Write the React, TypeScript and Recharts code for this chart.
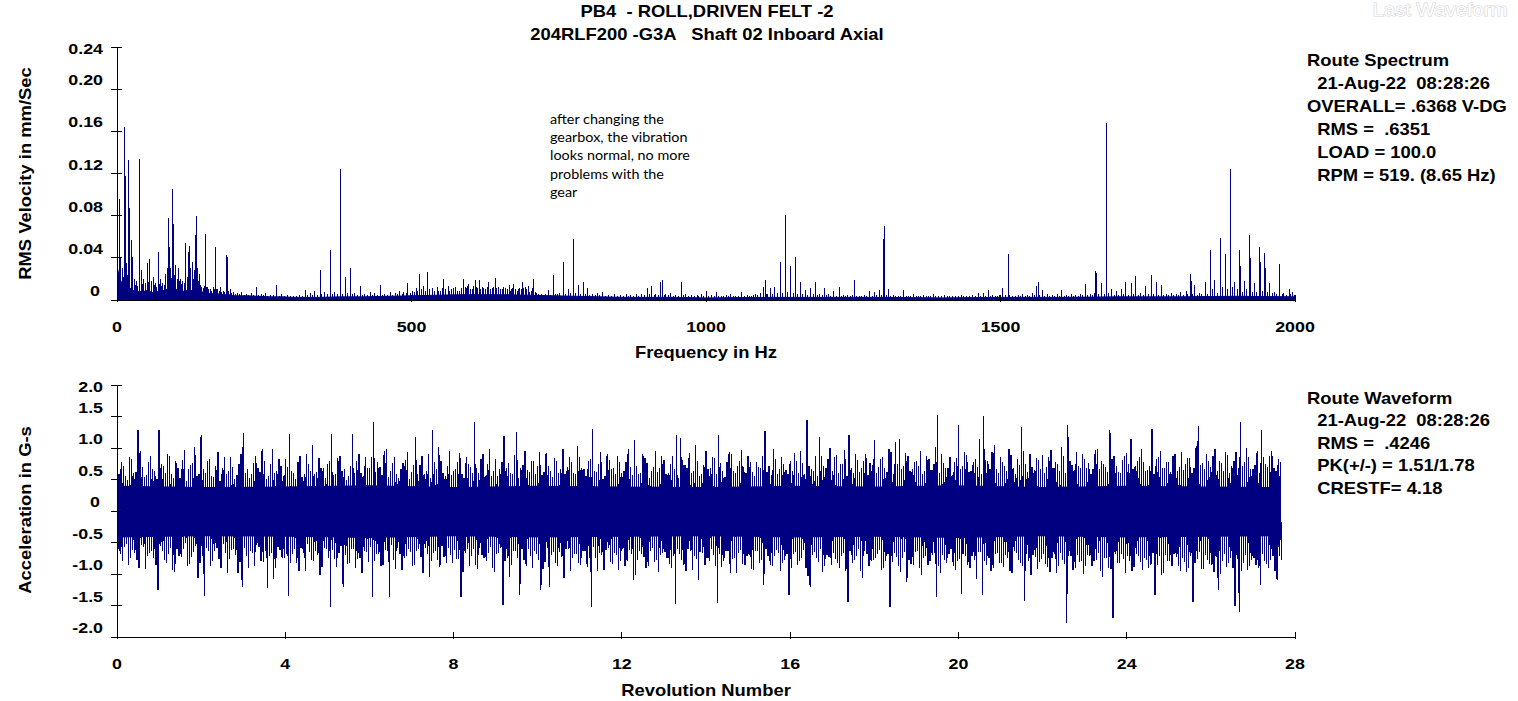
import React from "react";
import { Area, ComposedChart, Line, ReferenceLine, XAxis, YAxis } from "recharts";

const NAVY = "#000080";
const INK = "#000000";
const FONT = "'Liberation Sans', Arial, sans-serif";
const NOTE_FONT = "Lato, 'Noto Sans', sans-serif";
// the source screen is drawn a bit wide, so text gets stretched sideways
const STRETCH = 1.15;

const TITLE_LINES = ["PB4  - ROLL,DRIVEN FELT -2", "204RLF200 -G3A   Shaft 02 Inboard Axial"];
const NOTE_LINES = ["after changing the", "gearbox, the vibration", "looks normal, no more", "problems with the", "gear"];
const SPEC_INFO = ["Route Spectrum", "  21-Aug-22  08:28:26", "OVERALL= .6368 V-DG", "  RMS =  .6351", "  LOAD = 100.0", "  RPM = 519. (8.65 Hz)"];
const WAVE_INFO = ["Route Waveform", "  21-Aug-22  08:28:26", "  RMS =  .4246", "  PK(+/-) = 1.51/1.78", "  CRESTF= 4.18"];

// ---- spectrum ----
const SPEC_X_TICKS = [0, 500, 1000, 1500, 2000];
const SPEC_X_LABELS = ["0", "500", "1000", "1500", "2000"];
const SPEC_TOP_TICKS = [500, 1000, 1500];
const SPEC_Y_TICKS = [0, 0.04, 0.08, 0.12, 0.16, 0.2, 0.24];
const SPEC_Y_LABELS = ["0", "0.04", "0.08", "0.12", "0.16", "0.20", "0.24"];
const SPEC_RIGHT_TICKS = [0.04, 0.08, 0.12, 0.16, 0.2];

const FLOOR_HZ = [0, 4, 8, 14, 20, 28, 36, 44, 52, 60, 70, 80, 90, 100, 110, 120, 130, 140, 150, 160, 170, 180, 190, 200, 220, 240, 260, 280, 300, 340, 380, 420, 460, 500, 540, 580, 620, 660, 700, 740, 780, 820, 860, 900, 950, 1000, 1100, 1200, 1300, 1400, 1500, 1600, 1700, 1800, 1900, 2000];
const FLOOR_AMP = [0.032, 0.022, 0.016, 0.013, 0.012, 0.009, 0.008, 0.008, 0.009, 0.007, 0.008, 0.009, 0.011, 0.01, 0.008, 0.009, 0.009, 0.008, 0.007, 0.006, 0.006, 0.005, 0.005, 0.004, 0.004, 0.0035, 0.003, 0.003, 0.0025, 0.0025, 0.003, 0.003, 0.0035, 0.004, 0.0045, 0.005, 0.005, 0.005, 0.0045, 0.004, 0.0035, 0.003, 0.0025, 0.0025, 0.0025, 0.002, 0.0025, 0.0025, 0.0025, 0.002, 0.0025, 0.0025, 0.003, 0.003, 0.0035, 0.003];

// spectral lines [Hz, mm/s]
const PEAKS = [
  [1, 0.05], [3.4, 0.096], [6, 0.04], [8.5, 0.03], [10.5, 0.022], [12.4, 0.164], [14, 0.118], [16, 0.035], [17.5, 0.024], [19.2, 0.133],
  [20.4, 0.087], [22, 0.03], [24.4, 0.057], [26.6, 0.041], [29, 0.02], [31, 0.014], [33, 0.018], [35.5, 0.013], [38, 0.134], [41.5, 0.028],
  [43.5, 0.015], [45, 0.02], [48, 0.016], [51.6, 0.035], [53.5, 0.017], [55, 0.039], [58, 0.018], [61.8, 0.022], [63.5, 0.014], [65, 0.016],
  [67.5, 0.012], [70.3, 0.046], [72, 0.015], [74, 0.02], [76, 0.013], [78, 0.016], [80, 0.014], [82, 0.025], [85, 0.03], [87.3, 0.0775],
  [89, 0.05], [91, 0.03], [92.5, 0.021], [94, 0.105], [95.8, 0.072], [97.5, 0.024], [99.8, 0.033], [102, 0.02], [104, 0.03], [106, 0.018],
  [108, 0.02], [110, 0.015], [112, 0.018], [114.5, 0.016], [116.8, 0.054], [119, 0.022], [121.9, 0.046], [123, 0.051], [125, 0.03], [127.8, 0.036],
  [129.5, 0.02], [131, 0.028], [133.8, 0.062], [134.9, 0.08], [137, 0.03], [138.5, 0.018], [140, 0.025], [142, 0.014], [144, 0.012], [146.5, 0.011],
  [148, 0.013], [150.2, 0.063], [152, 0.012], [154, 0.012], [156, 0.01], [158, 0.01], [160.5, 0.009], [163, 0.012], [165, 0.01], [167.2, 0.05],
  [169, 0.01], [171, 0.01], [173.5, 0.009], [176, 0.012], [178, 0.008], [180, 0.009], [183, 0.008], [186, 0.043], [187.6, 0.041], [190, 0.009],
  [192, 0.01], [195, 0.007], [198, 0.008], [201, 0.006], [205, 0.007], [208, 0.006], [212, 0.008], [216, 0.005], [220, 0.006], [224, 0.005],
  [228, 0.007], [232, 0.005], [237, 0.0126], [241, 0.005], [245, 0.006], [248, 0.005], [252, 0.007], [256, 0.004], [260, 0.005], [265, 0.005],
  [271.6, 0.014], [276, 0.004], [280, 0.006], [285, 0.004], [290, 0.005], [295, 0.004], [300, 0.004], [305, 0.004], [310, 0.005], [315, 0.004],
  [320, 0.0095], [324, 0.005], [328, 0.007], [332, 0.005], [336, 0.009], [340, 0.005], [345, 0.028], [348, 0.006], [352, 0.008], [357, 0.006],
  [362, 0.047], [366, 0.006], [370, 0.008], [374, 0.006], [379, 0.124], [383, 0.006], [388, 0.022], [392, 0.007], [396, 0.03], [400, 0.006],
  [404, 0.007], [408, 0.005], [413, 0.013], [417, 0.005], [420, 0.006], [425, 0.005], [430, 0.008], [434, 0.005], [438, 0.007], [442, 0.005],
  [447, 0.014], [451, 0.005], [455, 0.006], [459, 0.005], [464, 0.008], [468, 0.005], [472, 0.007], [476, 0.006], [480, 0.009], [484, 0.006],
  [487, 0.008], [491, 0.007], [494, 0.016], [498, 0.007], [502, 0.009], [505, 0.008], [508, 0.011], [511, 0.009], [514, 0.025], [517, 0.01],
  [520, 0.013], [523, 0.009], [527, 0.027], [531, 0.01], [535, 0.011], [539, 0.009], [543.5, 0.0128], [546, 0.009], [549, 0.009], [552, 0.011],
  [555, 0.02], [558, 0.01], [562, 0.0136], [565, 0.009], [568, 0.01], [571, 0.011], [575, 0.012], [578, 0.009], [582, 0.009], [585, 0.011],
  [589, 0.02], [591, 0.012], [593, 0.011], [595, 0.013], [597, 0.015], [600, 0.01], [603, 0.01], [606, 0.013], [608, 0.0185], [610, 0.012],
  [612, 0.011], [615, 0.0185], [617, 0.01], [620, 0.012], [623, 0.011], [626, 0.01], [629, 0.012], [631.5, 0.017], [634, 0.01], [637, 0.011],
  [640, 0.012], [643, 0.021], [645, 0.011], [648, 0.012], [651, 0.01], [654, 0.01], [657, 0.012], [660, 0.011], [663, 0.01], [666, 0.014],
  [668, 0.009], [670, 0.01], [672, 0.011], [674, 0.015], [677, 0.01], [680, 0.009], [682, 0.01], [684, 0.011], [687, 0.01], [689, 0.017],
  [691, 0.011], [694, 0.012], [696, 0.01], [698, 0.013], [701, 0.008], [703, 0.009], [705, 0.011], [707, 0.02], [710, 0.008], [712, 0.007],
  [716, 0.006], [720, 0.006], [724, 0.005], [728, 0.006], [732, 0.0096], [736, 0.005], [741, 0.024], [744, 0.006], [748, 0.006], [752, 0.007],
  [757.3, 0.0363], [761, 0.006], [766, 0.0104], [770, 0.007], [774.4, 0.0582], [778, 0.007], [783, 0.014], [787, 0.006], [791.4, 0.017], [795, 0.006],
  [799, 0.011], [803, 0.005], [808, 0.006], [812, 0.005], [816, 0.0069], [820, 0.005], [825, 0.0074], [830, 0.004], [835, 0.005], [840, 0.004],
  [845, 0.006], [850, 0.004], [855, 0.005], [860, 0.004], [865, 0.006], [869, 0.004], [872, 0.005], [877, 0.004], [882, 0.006], [886, 0.004],
  [890, 0.0054], [895, 0.005], [900.8, 0.011], [904, 0.006], [908, 0.0136], [912, 0.005], [915, 0.006], [919, 0.005], [923.5, 0.017], [925.5, 0.0192],
  [929, 0.005], [932, 0.006], [936, 0.005], [940, 0.007], [944, 0.004], [948, 0.005], [953, 0.004], [958.6, 0.017], [962, 0.005], [966, 0.006],
  [970, 0.004], [975, 0.005], [980, 0.004], [985, 0.005], [988, 0.004], [992, 0.006], [996, 0.004], [1001, 0.0084], [1005, 0.004], [1010, 0.005],
  [1014, 0.004], [1018, 0.0077], [1022, 0.004], [1026, 0.004], [1030, 0.004], [1034, 0.005], [1038, 0.004], [1042, 0.006], [1046, 0.004], [1050, 0.004],
  [1055, 0.004], [1061, 0.0077], [1065, 0.004], [1070, 0.005], [1074, 0.004], [1078, 0.004], [1081, 0.005], [1084, 0.006], [1088, 0.005], [1092, 0.007],
  [1097, 0.012], [1100.3, 0.0185], [1103, 0.006], [1105, 0.006], [1109, 0.011], [1113, 0.006], [1117, 0.0126], [1122, 0.007], [1126.4, 0.0357], [1130, 0.007],
  [1135, 0.0807], [1139, 0.008], [1143.4, 0.0325], [1148, 0.007], [1152, 0.0411], [1156, 0.006], [1160, 0.017], [1164, 0.006], [1169, 0.0096], [1173, 0.005],
  [1177, 0.011], [1182, 0.006], [1186, 0.017], [1190, 0.005], [1193, 0.006], [1197, 0.005], [1201, 0.011], [1205, 0.005], [1208, 0.006], [1212, 0.004],
  [1217, 0.0084], [1221, 0.004], [1226, 0.0126], [1230, 0.004], [1233, 0.005], [1237, 0.004], [1240, 0.005], [1245, 0.004], [1248, 0.005], [1252, 0.0185],
  [1256, 0.004], [1260, 0.004], [1264, 0.004], [1269, 0.005], [1273, 0.004], [1278, 0.0084], [1282, 0.004], [1286, 0.008], [1290, 0.005], [1294.7, 0.0094],
  [1298, 0.005], [1302, 0.0578], [1303.3, 0.0702], [1307, 0.005], [1310.6, 0.0104], [1314, 0.004], [1318, 0.005], [1322, 0.004], [1326, 0.004], [1331, 0.004],
  [1335.6, 0.0094], [1340, 0.004], [1344, 0.004], [1348, 0.004], [1352, 0.006], [1357, 0.004], [1361, 0.004], [1365, 0.004], [1370, 0.005], [1374, 0.004],
  [1378, 0.004], [1382, 0.004], [1386, 0.006], [1390, 0.004], [1395, 0.004], [1400, 0.004], [1405, 0.005], [1410, 0.004], [1414, 0.004], [1419, 0.004],
  [1424, 0.004], [1428, 0.004], [1433, 0.005], [1437, 0.004], [1442, 0.004], [1447, 0.004], [1452, 0.005], [1457, 0.004], [1462, 0.0063], [1466, 0.004],
  [1471, 0.007], [1475, 0.004], [1479, 0.0096], [1483, 0.004], [1487, 0.005], [1491, 0.004], [1495, 0.004], [1499, 0.005], [1503, 0.0116], [1508, 0.005],
  [1513, 0.0437], [1516, 0.005], [1520, 0.004], [1525, 0.004], [1530, 0.005], [1534, 0.004], [1538, 0.006], [1542, 0.004], [1546, 0.005], [1550, 0.004],
  [1555, 0.007], [1558, 0.005], [1561, 0.0136], [1564, 0.017], [1567, 0.005], [1571, 0.0096], [1575, 0.004], [1580, 0.006], [1584, 0.004], [1588, 0.005],
  [1592, 0.004], [1596, 0.006], [1600, 0.004], [1604, 0.0094], [1608, 0.004], [1612, 0.005], [1616, 0.004], [1620, 0.006], [1624, 0.004], [1628, 0.005],
  [1632, 0.004], [1636, 0.006], [1640, 0.005], [1645, 0.015], [1648, 0.005], [1652, 0.006], [1656, 0.005], [1659, 0.007], [1662, 0.0272], [1663.5, 0.026],
  [1667, 0.006], [1672, 0.016], [1676, 0.006], [1679.5, 0.128], [1680.5, 0.168], [1684, 0.007], [1689, 0.0104], [1693, 0.005], [1697, 0.009], [1701, 0.005],
  [1705, 0.01], [1709, 0.006], [1713, 0.017], [1717, 0.005], [1722, 0.016], [1726, 0.006], [1730, 0.0227], [1734, 0.005], [1738, 0.007], [1742, 0.005],
  [1747, 0.0136], [1751, 0.006], [1755.6, 0.0236], [1760, 0.006], [1764.6, 0.017], [1768, 0.005], [1773, 0.0145], [1777, 0.005], [1781, 0.006], [1785, 0.005],
  [1790, 0.007], [1794, 0.005], [1798, 0.006], [1802, 0.005], [1806, 0.008], [1810, 0.005], [1815, 0.009], [1818, 0.006], [1822, 0.025], [1823.5, 0.018],
  [1826, 0.006], [1830, 0.014], [1834, 0.005], [1838, 0.007], [1842, 0.006], [1847.5, 0.017], [1851, 0.006], [1856.6, 0.0474], [1860, 0.01], [1864, 0.0192],
  [1868, 0.007], [1873, 0.0585], [1877, 0.012], [1881.5, 0.044], [1886, 0.01], [1890, 0.124], [1894, 0.012], [1898, 0.017], [1902, 0.01], [1906, 0.0474],
  [1907.5, 0.032], [1911, 0.008], [1914, 0.018], [1918, 0.01], [1923, 0.0617], [1924.5, 0.04], [1928, 0.008], [1931, 0.016], [1935, 0.008], [1939, 0.05],
  [1941, 0.0361], [1945, 0.009], [1948.5, 0.0446], [1950, 0.03], [1953, 0.008], [1957, 0.016], [1961, 0.007], [1965, 0.008], [1969, 0.006], [1973, 0.034],
  [1974.5, 0.016], [1978, 0.006], [1981, 0.007], [1985, 0.005], [1990, 0.0104], [1993, 0.006], [1996, 0.008], [1999, 0.005],
];

// ---- waveform ----
const WAVE_X_TICKS = [0, 4, 8, 12, 16, 20, 24, 28];
const WAVE_X_LABELS = ["0", "4", "8", "12", "16", "20", "24", "28"];
const WAVE_TOP_TICKS = [4, 8, 12, 16, 20, 24];
const WAVE_Y_TICKS = [-2, -1.5, -1, -0.5, 0, 0.5, 1, 1.5, 2];
const WAVE_Y_LABELS = ["-2.0", "-1.5", "-1.0", "-0.5", "0", "0.5", "1.0", "1.5", "2.0"];
const WAVE_RIGHT_TICKS = [-1.5, -1, -0.5, 0, 0.5, 1, 1.5];

// samples come in groups of four per 0.1 rev: POS, -NEG_B, POS_B, -NEG
const WAVE_POS = [
  0.62, 0.78, 0.55, 0.86, 0.6, 1.28, 0.7, 0.57, 0.88, 0.64,
  1.29, 0.72, 0.9, 0.58, 0.8, 0.52, 0.97, 0.66, 0.76, 0.56,
  1.21, 0.61, 0.83, 0.54, 0.93, 0.68, 0.59, 0.85, 0.51, 0.74,
  1.24, 0.67, 0.58, 0.87, 0.62, 0.79, 0.55, 0.98, 0.64, 0.72,
  0.83, 1.22, 0.6, 0.78, 0.54, 0.91, 0.63, 0.58, 0.84, 0.68,
  0.74, 1.22, 0.59, 0.88, 0.66, 0.56, 1.22, 0.8, 0.61, 0.86,
  0.69, 1.42, 0.78, 0.57, 0.99, 0.64, 0.85, 0.53, 0.76, 0.93,
  0.62, 1.17, 0.73, 0.59, 0.9, 1.29, 0.67, 0.8, 0.55, 0.95,
  0.64, 0.78, 0.58, 0.86, 0.7, 1.42, 0.61, 0.91, 0.75, 0.56,
  0.83, 0.66, 1.19, 0.76, 0.59, 1.25, 0.68, 0.96, 0.62, 0.8,
  0.71, 0.57, 0.92, 0.64, 0.84, 0.6, 0.99, 0.7, 0.77, 0.58,
  0.86, 0.67, 0.79, 1.3, 0.62, 0.93, 0.55, 0.81, 0.69, 0.88,
  0.61, 0.78, 0.7, 1.12, 0.58, 0.9, 0.76, 0.63, 0.96, 0.68,
  0.81, 0.6, 0.87, 1.2, 1.16, 0.73, 0.92, 0.64, 0.79, 0.59,
  0.95, 0.69, 0.84, 1.2, 0.63, 0.77, 0.9, 0.6, 0.8, 0.7,
  0.88, 0.62, 0.78, 0.68, 1.27, 0.72, 0.98, 0.59, 0.85, 0.65,
  0.79, 0.92, 0.61, 0.76, 1.45, 0.67, 0.87, 1.18, 0.71, 0.82,
  0.63, 0.89, 0.74, 0.97, 1.2, 0.6, 0.81, 0.68, 0.91, 0.76,
  1.13, 0.7, 0.85, 0.62, 0.94, 1.1, 1.15, 0.72, 0.88, 0.66,
  0.8, 0.96, 0.64, 0.83, 0.75, 1.52, 0.91, 0.69, 0.86, 0.77,
  1.37, 0.71, 0.89, 0.63, 0.82, 1.14, 1.5, 0.79, 0.94, 0.66,
  0.85, 0.72, 0.99, 0.69, 0.83, 1.34, 0.75, 0.91, 0.65, 0.81,
  0.89, 0.7, 0.97, 0.78, 0.64, 0.87, 1.37, 0.73, 0.93, 0.68,
  0.83, 0.76, 0.66, 0.98, 0.8, 0.7, 1.29, 0.88, 0.62, 0.81,
  0.92, 1.15, 0.71, 0.86, 0.77, 0.65, 1.3, 0.82, 0.96, 0.69,
  0.78, 0.87, 0.64, 0.93, 0.74, 0.84, 0.68, 1.35, 0.76, 0.9,
  0.7, 0.99, 0.8, 0.63, 0.89, 0.72, 0.94, 1.41, 0.77, 0.86,
  0.67, 0.95, 1.29, 0.75, 0.88, 0.69, 0.82,
];
const WAVE_POS_B = [
  0.58, 0.71, 0.49, 0.83, 0.62, 0.95, 0.54, 0.77, 0.66, 0.5,
  0.74, 0.6, 0.88, 0.52, 0.69, 0.81, 0.47, 0.73, 1.02, 0.59,
  0.67, 0.79, 0.55, 0.72, 0.48, 0.86, 0.63, 0.7, 0.57, 0.9,
  0.61, 0.53, 0.76, 0.68, 0.99, 0.5, 0.74, 0.6, 0.82, 0.56,
  0.7, 0.64, 0.51, 0.87, 0.58, 0.75, 1.04, 0.62, 0.69, 0.53,
  0.79, 0.57, 0.84, 0.63, 0.49, 0.72, 0.6, 0.91, 0.55, 0.68,
  0.85, 0.62, 0.7, 0.96, 0.54, 0.76, 0.59, 0.67, 0.81, 0.5,
  0.73, 0.58, 0.88, 0.64, 0.52, 0.78, 1.01, 0.6, 0.71, 0.57,
  0.66, 0.92, 0.53, 0.75, 0.61, 0.69, 0.83, 0.56, 0.98, 0.63,
  0.55, 0.77, 0.68, 0.6, 0.89, 0.52, 0.73, 0.65, 0.8, 0.58,
  0.94, 0.62, 0.71, 0.54, 0.79, 0.66, 0.58, 0.86, 0.61, 1.03,
  0.69, 0.56, 0.82, 0.63, 0.75, 0.51, 0.9, 0.67, 0.59, 0.77,
  0.64, 0.99, 0.57, 0.72, 0.6, 0.84, 0.53, 0.7, 0.62, 0.88,
  0.58, 0.74, 0.66, 0.52, 0.81, 0.69, 0.6, 1.05, 0.56, 0.73,
  0.67, 0.85, 0.59, 0.76, 0.54, 0.93, 0.63, 0.71, 0.97, 0.6,
  0.78, 0.55, 0.7, 0.88, 0.62, 0.57, 0.83, 0.66, 0.74, 0.59,
  0.63, 0.8, 0.96, 0.58, 0.72, 0.64, 0.55, 0.87, 0.69, 1.0,
  0.86, 0.61, 0.75, 0.56, 0.68, 0.9, 0.62, 0.79, 0.57, 0.73,
  0.6, 0.83, 0.69, 0.98, 0.58, 0.74, 0.66, 0.92, 0.63, 0.78,
  0.71, 0.59, 0.87, 0.65, 1.02, 0.6, 0.76, 0.69, 0.57, 0.84,
  0.66, 0.93, 0.62, 0.78, 0.7, 0.58, 0.81, 0.67, 1.04, 0.6,
  0.77, 0.64, 0.89, 0.59, 0.73, 0.95, 0.62, 0.7, 0.84, 0.66,
  0.61, 0.86, 0.68, 0.74, 1.01, 0.6, 0.79, 0.65, 0.72, 0.9,
  0.69, 0.58, 0.97, 0.67, 0.75, 0.62, 0.83, 0.71, 0.6, 0.88,
  0.74, 0.66, 0.8, 0.99, 0.63, 0.72, 0.59, 0.86, 0.68, 0.77,
  0.62, 0.91, 0.7, 0.65, 0.84, 0.6, 1.03, 0.73, 0.67, 0.8,
  0.88, 0.64, 0.76, 0.93, 0.61, 0.79, 0.68, 0.72, 1.0, 0.66,
  0.73, 0.6, 0.85, 0.7, 0.96, 0.64, 0.77,
];
// negative excursions are stored as magnitudes
const WAVE_NEG = [
  0.68, 0.57, 0.85, 0.62, 0.78, 0.54, 0.92, 0.66, 0.74, 1.25,
  0.64, 0.82, 0.58, 0.97, 0.71, 0.61, 0.88, 0.73, 0.56, 0.83,
  1.35, 0.63, 0.79, 0.59, 0.91, 0.67, 0.76, 0.6, 0.99, 1.21,
  0.72, 0.63, 0.87, 0.57, 0.81, 1.23, 0.66, 0.9, 0.62, 0.75,
  1.35, 0.68, 0.83, 0.59, 0.96, 0.65, 0.79, 0.7, 0.89, 0.61,
  1.52, 0.76, 0.67, 1.2, 0.84, 0.6, 0.91, 0.74, 0.64, 0.81,
  1.36, 0.69, 0.88, 0.62, 1.36, 0.77, 0.58, 0.94, 0.72, 0.65,
  0.86, 0.6, 0.98, 0.68, 0.79, 0.63, 0.89, 0.73, 0.59, 0.83,
  0.76, 1.37, 0.66, 0.87, 0.61, 0.92, 0.7, 0.8, 0.57, 0.97,
  0.67, 1.49, 0.74, 0.85, 0.64, 1.33, 0.78, 0.6, 0.9, 0.69,
  1.25, 0.81, 1.2, 0.65, 0.88, 0.73, 0.61, 0.95, 0.68, 0.82,
  0.63, 0.89, 1.52, 0.75, 0.67, 0.93, 0.59, 0.84, 0.7, 0.79,
  0.87, 0.62, 1.1, 0.77, 0.69, 0.91, 0.64, 0.81, 0.97, 0.66,
  0.74, 0.9, 1.47, 0.68, 0.85, 0.61, 0.93, 0.76, 0.65, 0.86,
  0.8, 0.7, 1.46, 0.89, 0.63, 0.98, 0.75, 0.67, 0.84, 0.72,
  0.92, 0.64, 0.82, 1.17, 0.71, 0.88, 0.62, 0.96, 0.77, 1.33,
  0.68, 0.86, 0.75, 0.9, 1.2, 0.65, 0.81, 0.97, 0.7, 0.85,
  0.76, 0.91, 0.66, 1.44, 0.82, 0.72, 0.95, 0.63, 0.88, 0.78,
  0.69, 0.93, 0.79, 1.52, 0.67, 0.87, 0.74, 1.12, 0.84, 0.65,
  0.9, 0.75, 0.85, 0.7, 1.37, 0.99, 0.77, 0.68, 0.88, 0.8,
  1.32, 0.71, 0.91, 0.78, 0.65, 1.34, 0.86, 0.96, 0.69, 0.82,
  0.89, 0.74, 0.98, 0.67, 0.83, 1.43, 0.79, 0.7, 0.92, 0.76,
  0.84, 0.97, 0.68, 0.87, 0.77, 1.78, 0.72, 0.9, 0.81, 1.0,
  0.7, 0.88, 0.78, 0.95, 0.74, 0.91, 1.7, 0.83, 0.69, 0.98,
  0.8, 0.89, 0.72, 0.94, 0.77, 0.86, 1.34, 0.71, 0.99, 0.79,
  0.87, 0.73, 0.96, 0.81, 0.9, 1.44, 0.76, 0.92, 0.7, 0.84,
  0.97, 1.25, 0.79, 0.89, 0.74, 1.5, 1.6, 0.83, 0.93, 0.77,
  0.86, 1.17, 0.8, 0.91, 0.72, 1.1, 0.78,
];
const WAVE_NEG_B = [
  0.61, 0.8, 0.52, 0.74, 0.66, 0.9, 0.57, 0.71, 0.63, 0.85,
  0.55, 0.77, 0.69, 0.93, 0.6, 0.73, 0.5, 0.84, 0.65, 1.06,
  0.72, 0.58, 0.87, 0.64, 0.76, 0.53, 0.98, 0.62, 0.7, 0.81,
  0.59, 0.9, 0.67, 0.54, 0.79, 0.63, 0.72, 1.08, 0.57, 0.75,
  0.68, 0.83, 0.6, 0.95, 0.66, 0.52, 0.77, 0.64, 1.02, 0.58,
  0.74, 0.62, 0.89, 0.56, 0.7, 0.82, 0.6, 0.76, 0.99, 0.65,
  0.57, 0.79, 0.69, 0.86, 0.63, 0.54, 0.92, 0.68, 0.75, 0.6,
  0.88, 0.64, 0.73, 0.59, 1.04, 0.67, 0.78, 0.55, 0.83, 0.7,
  0.62, 0.76, 0.97, 0.6, 0.71, 0.85, 0.58, 0.74, 0.66, 0.91,
  0.69, 0.58, 0.8, 1.05, 0.63, 0.75, 0.6, 0.88, 0.71, 0.64,
  0.77, 0.92, 0.59, 0.7, 0.83, 0.65, 1.07, 0.61, 0.74, 0.68,
  0.86, 0.63, 0.75, 0.57, 0.96, 0.7, 0.62, 0.81, 0.66, 0.93,
  0.6, 0.79, 0.68, 1.01, 0.64, 0.73, 0.87, 0.59, 0.77, 0.7,
  0.65, 0.84, 0.72, 0.6, 0.78, 0.95, 0.63, 0.71, 1.09, 0.67,
  0.74, 0.61, 0.88, 0.69, 0.8, 0.64, 0.76, 0.99, 0.62, 0.85,
  0.7, 0.93, 0.63, 0.77, 0.6, 0.86, 0.72, 0.66, 0.82, 0.68,
  0.91, 0.65, 0.79, 0.62, 1.03, 0.7, 0.75, 0.61, 0.87, 0.73,
  0.67, 0.82, 0.71, 0.96, 0.64, 0.78, 0.6, 1.06, 0.69, 0.8,
  0.75, 0.62, 0.9, 0.68, 0.81, 0.73, 0.97, 0.65, 0.77, 0.86,
  0.63, 1.01, 0.72, 0.79, 0.66, 0.88, 0.7, 0.83, 0.61, 0.94,
  0.76, 0.68, 0.85, 0.72, 1.08, 0.65, 0.8, 0.74, 0.9, 0.67,
  0.82, 0.7, 0.95, 0.64, 0.78, 0.87, 0.69, 1.02, 0.73, 0.81,
  0.68, 0.89, 0.75, 0.99, 0.66, 0.84, 0.72, 0.93, 0.7, 0.8,
  0.87, 0.71, 0.79, 0.66, 1.04, 0.74, 0.92, 0.69, 0.83, 0.76,
  0.72, 0.96, 0.68, 0.81, 0.75, 0.9, 0.67, 0.85, 1.01, 0.7,
  0.8, 0.69, 0.88, 0.74, 0.97, 0.71, 0.83, 0.65, 0.92, 0.77,
  0.85, 0.73, 1.0, 0.68, 0.82, 0.9, 0.76, 0.95, 0.7, 0.88,
  0.74, 0.91, 0.69, 0.84, 0.78, 0.95, 0.72,
];
// solid core of the trace (where samples overlap completely)
const CORE_REV = [0, 2, 4, 6, 8, 10, 12, 14, 16, 18, 20, 22, 24, 26, 27.6];
const CORE_HI = [0.4, 0.38, 0.39, 0.41, 0.38, 0.4, 0.39, 0.38, 0.4, 0.39, 0.41, 0.38, 0.4, 0.39, 0.38];
const CORE_LO = [-0.42, -0.4, -0.41, -0.43, -0.4, -0.42, -0.41, -0.4, -0.42, -0.41, -0.43, -0.4, -0.42, -0.41, -0.4];

const floorRows = FLOOR_HZ.map((hz, i) => ({ hz, amp: FLOOR_AMP[i] }));

const waveRows: { rev: number; g: number }[] = [];
WAVE_POS.forEach((p, k) => {
  const group = [p, -WAVE_NEG_B[k], WAVE_POS_B[k], -WAVE_NEG[k]];
  group.forEach((g, j) => {
    if (Number.isFinite(g)) waveRows.push({ rev: (k * 100 + j * 25) / 1000, g });
  });
});

const coreRows = CORE_REV.map((rev, i) => ({ rev, band: [CORE_LO[i], CORE_HI[i]] }));

function Txt(props: any) {
  const { x, y, size = 16, anchor = "start", weight = 700, rotate = 0, family = FONT, fill = INK, stroke, baseline = "central", children } = props;
  const t = `translate(${x} ${y})${rotate ? ` rotate(${rotate})` : ""} scale(${STRETCH} 1)`;
  return (
    <text
      transform={t}
      textAnchor={anchor}
      dominantBaseline={baseline}
      fontSize={size}
      fontWeight={weight}
      fontFamily={family}
      fill={fill}
      stroke={stroke}
      strokeWidth={stroke ? 1 : undefined}
      xmlSpace="preserve"
      style={{ whiteSpace: "pre", paintOrder: "stroke" }}
    >
      {children}
    </text>
  );
}

const TICK_SIZE = 15.5;

function leftTick(p: any, ticks: number[], labels: string[]) {
  const i = ticks.indexOf(p.payload.value);
  const isTop = i === ticks.length - 1;
  const isZero = p.payload.value === 0;
  return (
    <g>
      <line className="tk" x1={p.x - 6} x2={p.x + 5} y1={p.y} y2={p.y} stroke={INK} />
      <Txt x={isZero ? p.x - 17 : p.x - 14} y={isTop ? p.y + 2 : p.y - 9} size={TICK_SIZE} anchor="end">
        {labels[i]}
      </Txt>
    </g>
  );
}

function bottomTick(p: any, ticks: number[], labels: string[]) {
  const i = ticks.indexOf(p.payload.value);
  return (
    <g>
      <line className="tk" x1={p.x} x2={p.x} y1={p.y - 5} y2={p.y + 2} stroke={INK} />
      <Txt x={p.x} y={p.y + 26.5} size={TICK_SIZE} anchor="middle">
        {labels[i]}
      </Txt>
    </g>
  );
}

function topTick(p: any) {
  return <line className="tk" x1={p.x} x2={p.x} y1={p.y} y2={p.y + 5} stroke={INK} />;
}

function rightTick(p: any) {
  return <line className="tk" x1={p.x - 5} x2={p.x + 5} y1={p.y} y2={p.y} stroke={INK} />;
}

const noTick = () => <g />;

function SpectrumChart() {
  return (
    <ComposedChart width={1518} height={372} data={floorRows} margin={{ top: 47, right: 223, bottom: 0, left: 0 }}>
      <XAxis dataKey="hz" type="number" domain={[0, 2000]} ticks={SPEC_X_TICKS} interval={0} allowDataOverflow height={72} tickSize={0} tickMargin={0} tickLine={false} axisLine={{ stroke: INK }} tick={(p: any) => bottomTick(p, SPEC_X_TICKS, SPEC_X_LABELS)} />
      <XAxis xAxisId="top" orientation="top" type="number" domain={[0, 2000]} ticks={SPEC_TOP_TICKS} interval={0} allowDataOverflow height={0} mirror tickSize={0} tickMargin={0} tickLine={false} axisLine={{ stroke: INK }} tick={topTick} />
      <YAxis type="number" domain={[0, 0.24]} ticks={SPEC_Y_TICKS} interval={0} allowDataOverflow width={117} tickSize={0} tickMargin={0} tickLine={false} axisLine={{ stroke: INK }} tick={(p: any) => leftTick(p, SPEC_Y_TICKS, SPEC_Y_LABELS)} />
      <YAxis yAxisId="right" orientation="right" type="number" domain={[0, 0.24]} ticks={SPEC_RIGHT_TICKS} interval={0} allowDataOverflow width={0} mirror tickSize={0} tickMargin={0} tickLine={false} axisLine={{ stroke: INK }} tick={rightTick} />
      <Area dataKey="amp" type="linear" stroke={NAVY} strokeWidth={1} fill={NAVY} fillOpacity={1} dot={false} activeDot={false} isAnimationActive={false} />
      {PEAKS.map(([hz, amp], i) => (
        <ReferenceLine key={i} segment={[{ x: hz, y: 0 }, { x: hz, y: amp }]} stroke={NAVY} strokeWidth={1} />
      ))}
    </ComposedChart>
  );
}

function WaveChart({ core }: { core: boolean }) {
  const axisLine = core ? false : { stroke: INK };
  return (
    <ComposedChart width={1518} height={361} data={core ? coreRows : waveRows} margin={{ top: 45, right: 223, bottom: 0, left: 0 }}>
      <XAxis dataKey="rev" type="number" domain={[0, 28]} ticks={WAVE_X_TICKS} interval={0} allowDataOverflow height={64} tickSize={0} tickMargin={0} tickLine={false} axisLine={axisLine} tick={core ? noTick : (p: any) => bottomTick(p, WAVE_X_TICKS, WAVE_X_LABELS)} />
      <XAxis xAxisId="top" orientation="top" type="number" domain={[0, 28]} ticks={WAVE_TOP_TICKS} interval={0} allowDataOverflow height={0} mirror tickSize={0} tickMargin={0} tickLine={false} axisLine={axisLine} tick={core ? noTick : topTick} />
      <YAxis type="number" domain={[-2, 2]} ticks={WAVE_Y_TICKS} interval={0} allowDataOverflow width={117} tickSize={0} tickMargin={0} tickLine={false} axisLine={axisLine} tick={core ? noTick : (p: any) => leftTick(p, WAVE_Y_TICKS, WAVE_Y_LABELS)} />
      <YAxis yAxisId="right" orientation="right" type="number" domain={[-2, 2]} ticks={WAVE_RIGHT_TICKS} interval={0} allowDataOverflow width={0} mirror tickSize={0} tickMargin={0} tickLine={false} axisLine={axisLine} tick={core ? noTick : rightTick} />
      {core ? (
        <Area dataKey="band" type="linear" stroke="none" fill={NAVY} fillOpacity={1} dot={false} activeDot={false} isAnimationActive={false} />
      ) : (
        <Line dataKey="g" type="linear" stroke={NAVY} strokeWidth={1.2} strokeLinejoin="miter" strokeMiterlimit={2} dot={false} activeDot={false} isAnimationActive={false} />
      )}
    </ComposedChart>
  );
}

export default function App() {
  return (
    <div style={{ position: "absolute", left: 0, top: 0, width: 1518, height: 701, background: "#fff", overflow: "hidden" }}>
      <style>{`.recharts-reference-line line, .recharts-cartesian-axis-line, .tk, .wave .recharts-line-curve { shape-rendering: crispEdges; }`}</style>
      <div style={{ position: "absolute", left: 0, top: 0 }}>
        <SpectrumChart />
      </div>
      <div style={{ position: "absolute", left: 0, top: 340 }}>
        <WaveChart core />
      </div>
      <div className="wave" style={{ position: "absolute", left: 0, top: 340 }}>
        <WaveChart core={false} />
      </div>
      <svg width={1518} height={701} style={{ position: "absolute", left: 0, top: 0, pointerEvents: "none" }}>
        <Txt x={707} y={11.5} anchor="middle">{TITLE_LINES[0]}</Txt>
        <Txt x={707} y={34} anchor="middle">{TITLE_LINES[1]}</Txt>
        <Txt x={1440} y={10} anchor="middle" size={17.5} weight={400} fill="#ffffff" stroke="#d2d2d2">Last Waveform</Txt>
        <Txt x={25.5} y={173.5} anchor="middle" rotate={-90}>RMS Velocity in mm/Sec</Txt>
        <Txt x={706} y={352.5} anchor="middle">Frequency in Hz</Txt>
        <Txt x={25.5} y={510} anchor="middle" rotate={-90}>Acceleration in G-s</Txt>
        <Txt x={706} y={690} anchor="middle">Revolution Number</Txt>
        {NOTE_LINES.map((s, i) => (
          <Txt key={s} x={550} y={124 + i * 18.2} size={12.5} weight={400} family={NOTE_FONT} baseline="alphabetic">{s}</Txt>
        ))}
        {SPEC_INFO.map((s, i) => (
          <Txt key={s} x={1307} y={60.5 + i * 22.9}>{s}</Txt>
        ))}
        {WAVE_INFO.map((s, i) => (
          <Txt key={s} x={1307} y={398.3 + i * 22.5}>{s}</Txt>
        ))}
      </svg>
    </div>
  );
}
